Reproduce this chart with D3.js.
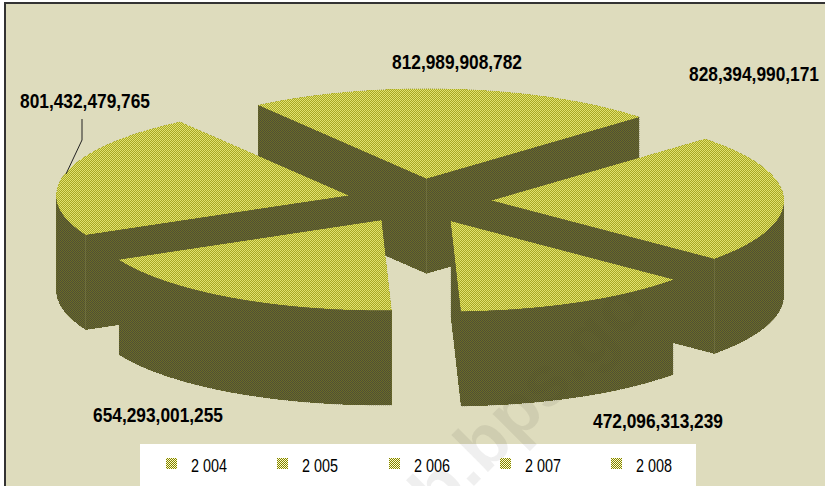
<!DOCTYPE html>
<html>
<head>
<meta charset="utf-8">
<script src="https://cdn.jsdelivr.net/npm/d3@7"></script>
<style>
  html, body { margin: 0; padding: 0; background: #fff; }
  svg { display: block; }
  .value { font: bold 20px "Liberation Sans", sans-serif; fill: #000; }
  .year { font: 19px "Liberation Sans", sans-serif; fill: #000; }
</style>
</head>
<body>
<div id="chart"></div>
<script>
// values, clockwise order of the slices
const years = ['2 004', '2 005', '2 006', '2 007', '2 008'];
const values = [654293001255, 801432479765, 812989908782, 828394990171, 472096313239];
const valueLabels = ['654,293,001,255', '801,432,479,765', '812,989,908,782', '828,394,990,171', '472,096,313,239'];

const width = 825, height = 486;

// pie geometry, fitted to the reference
const center = { x: 419, y: 201 };
const radiusX = 292, radiusY = 90, depth = 95;
const explode = 0.25;
const firstAngle = 178 * Math.PI / 180;

// dither pairs, means match the reference faces
const topColors = ['#a8a824', '#e2e270'];
const sideColors = ['#6c6c26', '#4e4e36'];
const swatchColors = ['#808000', '#ffffcc'];

const svg = d3.select('#chart').append('svg')
  .attr('width', width)
  .attr('height', height);

// 1px dither as dashed rows
const defs = svg.append('defs');
defs.append('path')
  .attr('id', 'dither')
  .attr('d', d3.range(height).map(y => `M${y % 2} ${y + 0.5}H${width}`).join(''))
  .attr('fill', 'none')
  .attr('stroke-width', 1)
  .attr('stroke-dasharray', '1 1')
  .attr('shape-rendering', 'crispEdges');

let clipCount = 0;
function ditherFace(parent, d, colors) {
  const id = 'face' + (clipCount++);
  defs.append('clipPath').attr('id', id)
    .append('path').attr('d', d).attr('shape-rendering', 'crispEdges');
  parent.append('path')
    .attr('d', d)
    .attr('fill', colors[0])
    .attr('shape-rendering', 'crispEdges');
  parent.append('g')
    .attr('clip-path', `url(#${id})`)
    .append('use')
    .attr('href', '#dither')
    .attr('stroke', colors[1]);
}

// faint watermark across the lower right
function watermark(opacity) {
  svg.append('text')
    .attr('transform', 'translate(411,549) rotate(-45)')
    .attr('font-family', '"Liberation Sans", sans-serif')
    .attr('font-weight', 'bold')
    .attr('font-size', 72)
    .attr('fill', '#000')
    .attr('fill-opacity', opacity)
    .text('ab.bps.go');
}

// chart area with frame
svg.append('rect')
  .attr('x', 5).attr('y', 3)
  .attr('width', width).attr('height', height)
  .attr('fill', '#dedcbd')
  .attr('stroke', '#333333')
  .attr('stroke-width', 2);

// legend box sits under the watermark
svg.append('rect')
  .attr('x', 140).attr('y', 444)
  .attr('width', 556).attr('height', 42)
  .attr('fill', '#fff');

watermark(0.05);

const pie = d3.pie()
  .sort(null)
  .startAngle(firstAngle)
  .endAngle(firstAngle + 2 * Math.PI);

const slices = pie(values).map((d, i) => {
  const mid = (d.startAngle + d.endAngle) / 2;
  const apex = [
    center.x + explode * radiusX * Math.sin(mid),
    center.y - explode * radiusY * Math.cos(mid)
  ];
  const onRim = a => [apex[0] + radiusX * Math.sin(a), apex[1] - radiusY * Math.cos(a)];
  const rim = d3.range(0, 61).map(k => onRim(d.startAngle + (d.endAngle - d.startAngle) * k / 60));
  return { ...d, index: i, mid, apex, rim };
});

const line = d3.line();
const drop = p => [p[0], p[1] + depth];

// back slices first
const ordered = slices.slice().sort((a, b) => d3.descending(Math.cos(a.mid), Math.cos(b.mid)));

const pieGroup = svg.append('g');

ordered.forEach(s => {
  const ring = [s.apex, ...s.rim];
  // a slice is convex, so the hull of both faces is its side silhouette
  const hull = d3.polygonHull([...ring, ...ring.map(drop)]);
  ditherFace(pieGroup, line(hull) + 'Z', sideColors);

  // faint vertical seams, only the back apex and the two side slices show one
  const seams = [];
  if (Math.abs(Math.cos(s.mid)) < 0.3) {
    seams.push(...[s.rim[0], s.rim[s.rim.length - 1]].filter(p => p[1] > s.apex[1] + 30));
  }
  if (Math.cos(s.mid) > 0.5) seams.push(s.apex);
  seams.forEach(p => {
    pieGroup.append('path')
      .attr('d', line([p, drop(p)]))
      .attr('stroke', '#8a8a5a')
      .attr('stroke-opacity', 0.35)
      .attr('shape-rendering', 'crispEdges');
  });

  ditherFace(pieGroup, line(ring) + 'Z', topColors);
});

// only a trace of the watermark shows on the pie itself
svg.append('g').attr('clip-path', null);
watermark(0.012);

// data labels
const labelPos = [[93, 422], [20, 108], [392, 69], [689, 81], [593, 428]];
svg.append('g').selectAll('text')
  .data(valueLabels)
  .join('text')
  .attr('class', 'value')
  .attr('x', (d, i) => labelPos[i][0])
  .attr('y', (d, i) => labelPos[i][1])
  .attr('textLength', 130)
  .attr('lengthAdjust', 'spacingAndGlyphs')
  .text(d => d);

// leader line of the 2005 label
svg.append('path')
  .attr('d', line([[82, 119], [82, 140], [66, 174]]))
  .attr('fill', 'none')
  .attr('stroke', '#222');

// legend entries
const legendX = d3.scalePoint().domain(years).range([166, 611]);
years.forEach(y => {
  const x = Math.round(legendX(y));
  ditherFace(svg, `M${x} 458h11v11h-11z`, swatchColors);
  svg.append('text')
    .attr('class', 'year')
    .attr('x', x + 25).attr('y', 472)
    .attr('textLength', 36)
    .attr('lengthAdjust', 'spacingAndGlyphs')
    .text(y);
});
</script>
</body>
</html>
